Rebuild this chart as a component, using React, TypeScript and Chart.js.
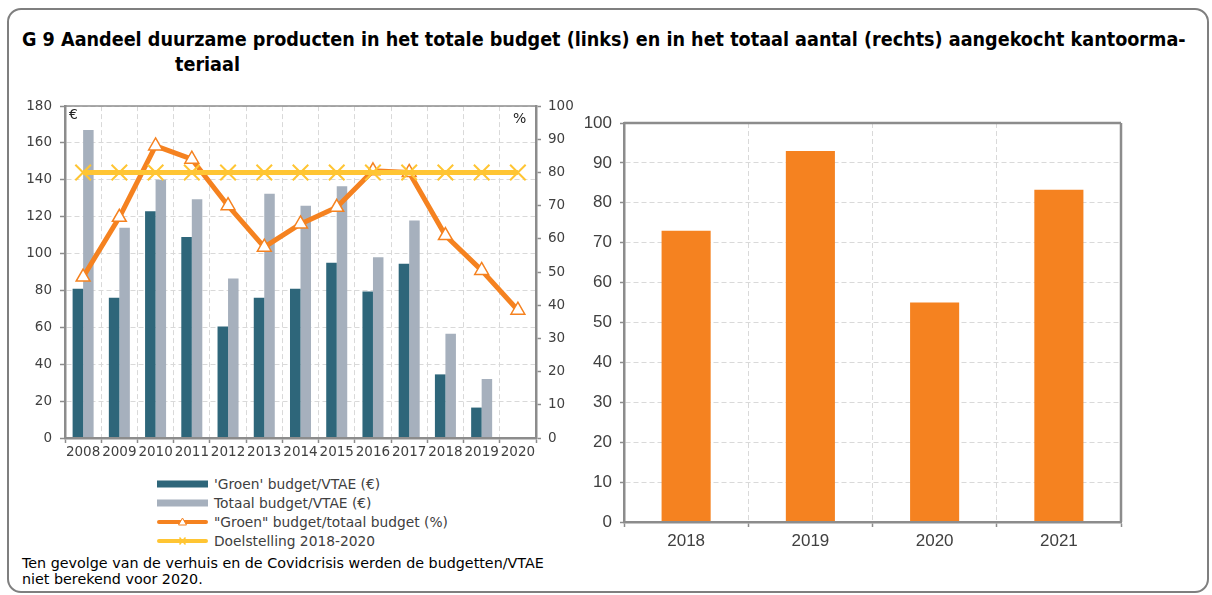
import React, { useEffect, useRef } from 'react';
import { Chart, registerables } from 'chart.js';

Chart.register(...registerables);

// ---------- data (left chart) ----------
const years = ['2008', '2009', '2010', '2011', '2012', '2013', '2014', '2015', '2016', '2017', '2018', '2019', '2020'];
const groenBudget = [81, 76, 123, 109, 60.5, 76, 81, 95, 79.5, 94.5, 34.5, 16.5, null];
const totaalBudget = [167, 114, 140, 129.5, 86.5, 132.5, 126, 136.5, 98, 118, 56.5, 32, null];
const groenAandeel = [48.5, 66.5, 88, 84, 70, 57.5, 64.5, 69.5, 80.5, 80, 61, 50.5, 38.5];
const doelstelling = [80, 80, 80, 80, 80, 80, 80, 80, 80, 80, 80, 80, 80];
const euroTicks = [0, 20, 40, 60, 80, 100, 120, 140, 160, 180];
const pctTicks = [0, 10, 20, 30, 40, 50, 60, 70, 80, 90, 100];

// ---------- data (right chart) ----------
const aantalJaren = ['2018', '2019', '2020', '2021'];
const aantalAandeel = [73, 93, 55, 83.3];
const aantalTicks = [0, 10, 20, 30, 40, 50, 60, 70, 80, 90, 100];

const labelsLegend = [
  "'Groen' budget/VTAE (€)",
  'Totaal budget/VTAE (€)',
  '"Groen" budget/totaal budget (%)',
  'Doelstelling 2018-2020',
];

const TEAL = '#2E667A';
const GRAY = '#A6B0BD';
const ORANGE = '#F58220';
const YELLOW = '#FFC533';
const AXIS = '#8C8C8C';
const GRID = '#D9D9D9';
const TEXT = '#404040';

const framePlugin = {
  id: 'frame',
  afterDraw(chart: any, _args: any, opts: any) {
    const { ctx, chartArea: a } = chart;
    ctx.save();
    ctx.strokeStyle = opts.color || AXIS;
    ctx.lineWidth = opts.width || 1.5;
    ctx.beginPath();
    if (opts.top) {
      ctx.moveTo(a.left, a.top);
      ctx.lineTo(a.right, a.top);
    }
    if (opts.right) {
      ctx.moveTo(a.right, a.top);
      ctx.lineTo(a.right, a.bottom);
    }
    ctx.stroke();
    ctx.restore();
  },
};

function LeftChart() {
  const ref = useRef<HTMLCanvasElement>(null);
  useEffect(() => {
    const font = { family: 'DejaVu Sans', size: 13.5 };
    const chart = new Chart(ref.current as HTMLCanvasElement, {
      type: 'bar',
      data: {
        labels: years,
        datasets: [
          {
            type: 'bar',
            label: labelsLegend[0],
            data: groenBudget,
            backgroundColor: TEAL,
            yAxisID: 'y',
            order: 2,
            categoryPercentage: 0.58,
            barPercentage: 1,
          },
          {
            type: 'bar',
            label: labelsLegend[1],
            data: totaalBudget,
            backgroundColor: GRAY,
            yAxisID: 'y',
            order: 2,
            categoryPercentage: 0.58,
            barPercentage: 1,
          },
          {
            type: 'line',
            label: labelsLegend[2],
            data: groenAandeel,
            borderColor: ORANGE,
            borderWidth: 5,
            borderJoinStyle: 'round',
            borderCapStyle: 'round',
            pointStyle: 'triangle',
            pointRadius: 8,
            pointBackgroundColor: '#FFFFFF',
            pointBorderColor: ORANGE,
            pointBorderWidth: 1.5,
            yAxisID: 'y1',
            order: 1,
            tension: 0,
          },
          {
            type: 'line',
            label: labelsLegend[3],
            data: doelstelling,
            borderColor: YELLOW,
            borderWidth: 5,
            pointStyle: 'crossRot',
            pointRadius: 11,
            pointBorderColor: YELLOW,
            pointBorderWidth: 2,
            yAxisID: 'y1',
            order: 0,
          },
        ] as any,
      },
      options: {
        responsive: false,
        animation: false,
        devicePixelRatio: 1,
        layout: { padding: { top: 14, left: 0, right: 0, bottom: 0 } },
        plugins: {
          legend: { display: false },
          tooltip: { enabled: false },
          frame: { top: true, color: AXIS, width: 1.5 },
        } as any,
        scales: {
          x: {
            type: 'category',
            offset: true,
            grid: {
              offset: true,
              color: GRID,
              lineWidth: 1,
              drawTicks: true,
              tickLength: 5,
              tickColor: AXIS,
              tickWidth: 1.5,
            },
            border: { color: AXIS, width: 2.5, dash: [5, 3], z: 1 } as any,
            ticks: { font, color: TEXT, autoSkip: false, maxRotation: 0, minRotation: 0, padding: 1 },
            afterFit: (s: any) => {
              s.height = 24;
            },
          },
          y: {
            position: 'left',
            min: 0,
            max: 180,
            afterBuildTicks: (s: any) => {
              s.ticks = euroTicks.map((v) => ({ value: v }));
            },
            grid: {
              color: GRID,
              lineWidth: 1,
              tickLength: 5,
              tickColor: AXIS,
              tickWidth: 1.5,
            },
            border: { color: AXIS, width: 2.5, dash: [5, 3], z: 1 } as any,
            ticks: { font, color: TEXT, padding: 8 },
            afterFit: (s: any) => {
              s.width = 65;
            },
          },
          y1: {
            position: 'right',
            min: 0,
            max: 100,
            afterBuildTicks: (s: any) => {
              s.ticks = pctTicks.map((v) => ({ value: v }));
            },
            grid: {
              drawOnChartArea: false,
              tickLength: 5,
              tickColor: AXIS,
              tickWidth: 1.5,
            },
            border: { color: AXIS, width: 2.5, z: 1 } as any,
            ticks: { font, color: TEXT, padding: 7 },
            afterFit: (s: any) => {
              s.width = 44;
            },
          },
        },
      } as any,
      plugins: [framePlugin],
    });
    return () => chart.destroy();
  }, []);
  return (
    <canvas
      ref={ref}
      width={580}
      height={372}
      style={{ position: 'absolute', left: 0, top: 90, width: 580, height: 372 }}
    />
  );
}

function RightChart() {
  const ref = useRef<HTMLCanvasElement>(null);
  useEffect(() => {
    const font = { family: "'Liberation Sans Narrow', 'Liberation Sans', sans-serif", size: 17 };
    const chart = new Chart(ref.current as HTMLCanvasElement, {
      type: 'bar',
      data: {
        labels: aantalJaren,
        datasets: [
          {
            label: 'Aandeel',
            data: aantalAandeel,
            backgroundColor: ORANGE,
            categoryPercentage: 1,
            barPercentage: 0.395,
          },
        ],
      },
      options: {
        responsive: false,
        animation: false,
        devicePixelRatio: 1,
        layout: { padding: { top: 23, left: 0, right: 89, bottom: 0 } },
        plugins: {
          legend: { display: false },
          tooltip: { enabled: false },
          frame: { top: true, right: true, color: AXIS, width: 2.5 },
        } as any,
        scales: {
          x: {
            offset: true,
            grid: {
              offset: true,
              color: GRID,
              lineWidth: 1,
              tickLength: 5,
              tickColor: AXIS,
              tickWidth: 1.5,
            },
            border: { color: AXIS, width: 2.5, dash: [5, 3], z: 1 } as any,
            ticks: { font, color: TEXT, autoSkip: false, maxRotation: 0, padding: 4 },
            afterFit: (s: any) => {
              s.height = 38;
            },
          },
          y: {
            min: 0,
            max: 100,
            afterBuildTicks: (s: any) => {
              s.ticks = aantalTicks.map((v) => ({ value: v }));
            },
            grid: {
              color: GRID,
              lineWidth: 1,
              tickLength: 4,
              tickColor: AXIS,
              tickWidth: 1.5,
            },
            border: { color: AXIS, width: 2.5, dash: [5, 3], z: 1 } as any,
            ticks: { font, color: TEXT, padding: 8 },
            afterFit: (s: any) => {
              s.width = 64;
            },
          },
        },
      } as any,
      plugins: [framePlugin],
    });
    return () => chart.destroy();
  }, []);
  return (
    <canvas
      ref={ref}
      width={650}
      height={460}
      style={{ position: 'absolute', left: 560, top: 100, width: 650, height: 460 }}
    />
  );
}

function Swatch({ kind }: { kind: number }) {
  if (kind === 0 || kind === 1) {
    return (
      <svg width={52} height={12} style={{ display: 'block' }}>
        <rect x={0} y={2.5} width={51} height={7} fill={kind === 0 ? TEAL : GRAY} />
      </svg>
    );
  }
  if (kind === 2) {
    return (
      <svg width={52} height={12} style={{ display: 'block' }}>
        <line x1={2} y1={6} x2={49} y2={6} stroke={ORANGE} strokeWidth={4} strokeLinecap="round" />
        <polygon points="25.5,2 29.5,9 21.5,9" fill="#FFFFFF" stroke={ORANGE} strokeWidth={1} />
      </svg>
    );
  }
  return (
    <svg width={52} height={12} style={{ display: 'block' }}>
      <line x1={2} y1={6} x2={49} y2={6} stroke={YELLOW} strokeWidth={4} strokeLinecap="round" />
      <line x1={22.5} y1={2.5} x2={28.5} y2={9.5} stroke={YELLOW} strokeWidth={1.5} />
      <line x1={28.5} y1={2.5} x2={22.5} y2={9.5} stroke={YELLOW} strokeWidth={1.5} />
    </svg>
  );
}

const TITLE_FONT = "bold 19.6px 'DejaVu Sans Condensed', 'DejaVu Sans', sans-serif";
const LEGEND_FONT = "13.8px 'DejaVu Sans', sans-serif";
const NOTE_FONT = "14.3px 'DejaVu Sans', sans-serif";

export default function App() {
  const rowY = [484, 503, 522, 541];
  return (
    <div
      style={{
        position: 'absolute',
        left: 0,
        top: 0,
        width: 1212,
        height: 595,
        background: '#FFFFFF',
        overflow: 'hidden',
      }}
    >
      <div
        style={{
          position: 'absolute',
          left: 7,
          top: 8,
          width: 1202,
          height: 585,
          border: '2px solid #7F7F7F',
          borderRadius: 14,
          boxSizing: 'border-box',
        }}
      />
      <div
        style={{
          position: 'absolute',
          left: 22,
          top: 28,
          font: TITLE_FONT,
          whiteSpace: 'nowrap',
          color: '#000',
          lineHeight: '24px',
        }}
      >
        G 9 Aandeel duurzame producten in het totale budget (links) en in het totaal aantal (rechts) aangekocht kantoorma-
      </div>
      <div
        style={{
          position: 'absolute',
          left: 175,
          top: 53,
          font: TITLE_FONT,
          whiteSpace: 'nowrap',
          color: '#000',
          lineHeight: '24px',
        }}
      >
        teriaal
      </div>
      <LeftChart />
      <RightChart />
      <div
        style={{
          position: 'absolute',
          left: 69,
          top: 105,
          font: "14px 'DejaVu Sans', sans-serif",
          color: '#222',
          lineHeight: '18px',
        }}
      >
        €
      </div>
      <div
        style={{
          position: 'absolute',
          left: 513,
          top: 109,
          font: "14px 'DejaVu Sans', sans-serif",
          color: '#222',
          lineHeight: '18px',
        }}
      >
        %
      </div>
      {labelsLegend.map((t, i) => (
        <React.Fragment key={t}>
          <div style={{ position: 'absolute', left: 157, top: rowY[i] - 6 }}>
            <Swatch kind={i} />
          </div>
          <div
            style={{
              position: 'absolute',
              left: 214,
              top: rowY[i] - 9,
              font: LEGEND_FONT,
              color: TEXT,
              lineHeight: '18px',
              whiteSpace: 'nowrap',
            }}
          >
            {t}
          </div>
        </React.Fragment>
      ))}
      <div
        style={{
          position: 'absolute',
          left: 22,
          top: 555,
          font: NOTE_FONT,
          color: '#000',
          lineHeight: '16px',
          whiteSpace: 'nowrap',
        }}
      >
        Ten gevolge van de verhuis en de Covidcrisis werden de budgetten/VTAE
        <br />
        niet berekend voor 2020.
      </div>
    </div>
  );
}
